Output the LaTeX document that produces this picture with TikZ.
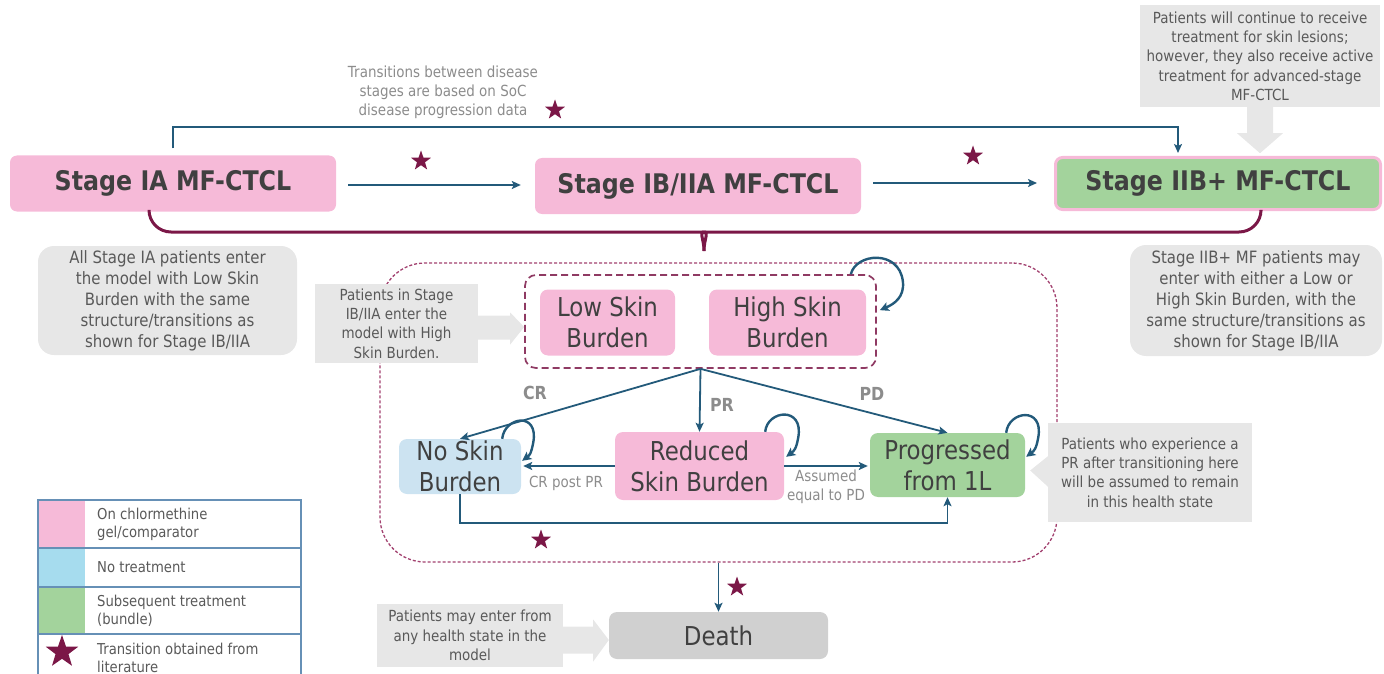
\documentclass[tikz,border=0pt]{standalone}
\usepackage{fontspec}
\setmainfont{DejaVu Sans}[FakeStretch=0.88]
\usetikzlibrary{arrows.meta,shapes.geometric,calc}
\definecolor{pinkF}{HTML}{F6BAD8}
\definecolor{greenF}{HTML}{A3D39C}
\definecolor{paleblue}{HTML}{CCE3F1}
\definecolor{legblue}{HTML}{A6DCEE}
\definecolor{noteF}{HTML}{E7E7E7}
\definecolor{deathF}{HTML}{D0D0D0}
\definecolor{navy}{HTML}{235A7A}
\definecolor{plum}{HTML}{7B1747}
\definecolor{dashc}{HTML}{A2416F}
\definecolor{boxtxt}{HTML}{404040}
\definecolor{notetxt}{HTML}{595959}
\definecolor{lbltxt}{HTML}{8C8C8C}
\definecolor{legline}{HTML}{6690B6}
\begin{document}
\begin{tikzpicture}[x=1pt, y=-1pt,
  stagebox/.style={rounded corners=7pt, fill=pinkF, text=boxtxt,
    font=\bfseries\fontsize{27}{32}\selectfont, inner sep=0pt},
  statebox/.style={rounded corners=8pt, text=boxtxt, align=center,
    font=\fontsize{26}{31}\selectfont, inner sep=0pt},
  note/.style={fill=noteF, text=notetxt, align=center,
    font=\fontsize{15.3}{19.3}\selectfont, inner sep=0pt},
  bignote/.style={note, rounded corners=16pt, font=\fontsize{17}{21}\selectfont},
  lbl/.style={text=lbltxt, align=center, font=\fontsize{15.3}{19}\selectfont, inner sep=0pt},
  blbl/.style={text=lbltxt, font=\bfseries\fontsize{18}{20}\selectfont, inner sep=0pt},
  arr/.style={draw=navy, line width=1.8pt, -{Stealth[length=9pt,width=8pt,inset=2pt]}},
  selfloop/.style={draw=navy, line width=2.4pt, -{Stealth[length=9pt,width=9pt,inset=2pt]}},
  lit/.style={star, star points=5, star point ratio=2.5, fill=plum,
    minimum size=21pt, inner sep=0pt},
  legtxt/.style={text=notetxt, align=left, anchor=west,
    font=\fontsize{15}{18}\selectfont, inner sep=0pt},
  brace/.style={draw=plum, line width=3pt, rounded corners=22pt}]
\useasboundingbox (0,0) rectangle (1384,674);

% ---- disease stages ----
\node[stagebox, minimum width=326pt, minimum height=56pt] (ia) at (173,183.5) {Stage IA MF-CTCL};
\node[stagebox, minimum width=326pt, minimum height=56pt] (ib) at (698,186) {Stage IB/IIA MF-CTCL};
\node[stagebox, fill=greenF, draw=pinkF, line width=3pt, minimum width=325pt, minimum height=52pt] (iib) at (1218,183.5) {Stage IIB+ MF-CTCL};

\draw[arr] ($(ia.east)+(12,1.5)$) -- ($(ia.east -| ib.west)+(-14,1.5)$);
\draw[arr] ($(ib.east)+(12,-3)$) -- ($(ib.east -| iib.west)+(-17,-3)$);
\node[lit] (s1) at (421,161) {};
\node[lit] (s2) at (973,156) {};

% direct stage IA -> IIB+ transition
\draw[arr] ($(ia.north)+(0,-7)$) |- ($(iib.north)+(-40,-29)$) -- ($(iib.north)+(-40,-3)$);
\node[lbl] (soc) at (443,92) {Transitions between disease\\stages are based on SoC\\disease progression data};
\node[lit] (s3) at (555,110) {};

% note above stage IIB+
\node[note, minimum width=240pt, minimum height=102pt] (tr) at (1260,56)
  {Patients will continue to receive\\treatment for skin lesions;\\however, they also receive active\\treatment for advanced-stage\\MF-CTCL};
\fill[noteF] ($(tr.south)+(-13,0)$) -- ++(0,26) -- ++(-10,0) -- ($(tr.south)+(0,46)$)
  -- ($(tr.south)+(23,26)$) -- ++(-10,0) -- ($(tr.south)+(13,0)$) -- cycle;

% brace gathering the stages into the skin-burden model
\coordinate (tip) at (704,251);
\draw[brace] ($(ia.south)+(-24,0)$) |- (684,232) .. controls (698,232) and (704,238) .. (tip);
\draw[brace] ($(iib.south)+(43,0)$) |- (724,232) .. controls (710,232) and (704,238) .. (tip);

\node[bignote, minimum width=259pt, minimum height=109pt] (ianote) at (167.5,300.5)
  {All Stage IA patients enter\\the model with Low Skin\\Burden with the same\\structure/transitions as\\shown for Stage IB/IIA};
\node[bignote, minimum width=252pt, minimum height=111pt] (iibnote) at (1256,300.5)
  {Stage IIB+ MF patients may\\enter with either a Low or\\High Skin Burden, with the\\same structure/transitions as\\shown for Stage IB/IIA};

% ---- skin burden sub-model ----
\node[draw=dashc, line width=1.3pt, dash pattern=on 3pt off 2pt, rounded corners=45pt,
  minimum width=677pt, minimum height=299pt] (box) at (718.5,412.5) {};
\node[draw=plum!85, line width=1.7pt, dash pattern=on 7pt off 4pt, rounded corners=11pt,
  minimum width=351pt, minimum height=93pt] (grp) at (700.5,321.5) {};
\node[statebox, fill=pinkF, minimum width=135pt, minimum height=66pt] (low) at (607.5,322.5) {Low Skin\\Burden};
\node[statebox, fill=pinkF, minimum width=157pt, minimum height=66pt] (high) at (787.5,322.5) {High Skin\\Burden};
\draw[selfloop] ($(grp.north east)+(-26,0)$) .. controls +(5,-21) and +(-4,-32) .. ($(grp.north east)+(26,7)$)
  .. controls +(2,16) and +(14,-6) .. ($(grp.north east)+(3,36)$);

\node[note, minimum width=163pt, minimum height=79pt] (pib) at (396.5,323.5)
  {Patients in Stage\\IB/IIA enter the\\model with High\\Skin Burden.};
\fill[noteF] ($(pib.east)+(-1,-8)$) -- ($(pib.east)+(32,-8)$) -- ($(pib.east)+(32,-11)$)
  -- ($(grp.west)+(0,5.5)$) -- ($(pib.east)+(32,21)$) -- ($(pib.east)+(32,16)$)
  -- ($(pib.east)+(-1,16)$) -- cycle;

\node[statebox, fill=paleblue, minimum width=122pt, minimum height=55pt] (nsb) at (460,466.5) {No Skin\\Burden};
\node[statebox, fill=pinkF, minimum width=169pt, minimum height=68pt] (rsb) at (699.5,466) {Reduced\\Skin Burden};
\node[statebox, fill=greenF, minimum width=155pt, minimum height=64pt] (prg) at (947.5,465) {Progressed\\from 1L};

\coordinate (br) at (grp.south);
\draw[arr] (br) -- (nsb.north);
\draw[arr] (br) -- (rsb.north);
\draw[arr] (br) -- (prg.north);
\node[blbl] (cr) at (535,393) {CR};
\node[blbl] (pr) at (722,405) {PR};
\node[blbl] (pd) at (872,394) {PD};

% self transitions
\draw[selfloop] ($(nsb.north east)+(-19,0)$) .. controls +(2,-22) and +(6,-32) .. ($(nsb.north east)+(12,4)$)
  .. controls +(-2,10) and +(8,-6) .. ($(nsb.north east)+(1,22)$);
\draw[selfloop] ($(rsb.north east)+(-19,0)$) .. controls +(2,-22) and +(6,-32) .. ($(rsb.north east)+(14,6)$)
  .. controls +(-2,11) and +(8,-6) .. ($(rsb.north east)+(2,25)$);
\draw[selfloop] ($(prg.north east)+(-19,0)$) .. controls +(2,-22) and +(6,-32) .. ($(prg.north east)+(13,5)$)
  .. controls +(-2,11) and +(8,-6) .. ($(prg.north east)+(1,24)$);

\draw[arr] (rsb.west) -- ($(rsb.west -| nsb.east)+(2,0)$);
\draw[arr] (rsb.east) -- ($(rsb.east -| prg.west)+(-2,0)$);
\node[lbl] (crpr) at (566,483) {CR post PR};
\node[lbl] (eqpd) at (826,487) {Assumed\\equal to PD};

\draw[arr] (nsb.south) -- ++(0,29) -| (prg.south);
\node[lit] (s4) at (541,540) {};

\node[note, minimum width=204pt, minimum height=99pt] (pcn) at (1150,472.5)
  {Patients who experience a\\PR after transitioning here\\will be assumed to remain\\in this health state};
\fill[noteF] ($(pcn.west)+(1,-17)$) -- ($(prg.east)+(5,5.5)$) -- ($(pcn.west)+(1,15)$) -- cycle;

% ---- death ----
\node[statebox, fill=deathF, minimum width=219pt, minimum height=47pt] (death) at (718.5,635.5) {Death};
\draw[arr] (box.south) -- (death.north);
\node[lit] (s5) at (737,587) {};
\node[note, minimum width=186pt, minimum height=63pt] (dn) at (470,635.5)
  {Patients may enter from\\any health state in the\\model};
\fill[noteF] ($(dn.east)+(-1,-9)$) -- ($(dn.east)+(30,-9)$) -- ($(dn.east)+(30,-16)$)
  -- ($(death.west)+(0,4.5)$) -- ($(dn.east)+(30,26)$) -- ($(dn.east)+(30,18)$)
  -- ($(dn.east)+(-1,18)$) -- cycle;

% ---- legend ----
\fill[pinkF] (38,500) rectangle (85,548);
\fill[legblue] (38,548) rectangle (85,587);
\fill[greenF] (38,587) rectangle (85,634);
\draw[legline, line width=1.2pt] (38,675) -- (38,500) -- (301,500) -- (301,675);
\draw[legline, line width=1.2pt] (38,548) -- (301,548) (38,587) -- (301,587) (38,634) -- (301,634);
\node[legtxt] (l1) at (97,524) {On chlormethine\\gel/comparator};
\node[legtxt] (l2) at (97,567) {No treatment};
\node[legtxt] (l3) at (97,611) {Subsequent treatment\\(bundle)};
\node[lit, minimum size=34pt] (l4s) at (62,652) {};
\node[legtxt] (l4) at (97,658) {Transition obtained from\\literature};
\end{tikzpicture}
\end{document}
